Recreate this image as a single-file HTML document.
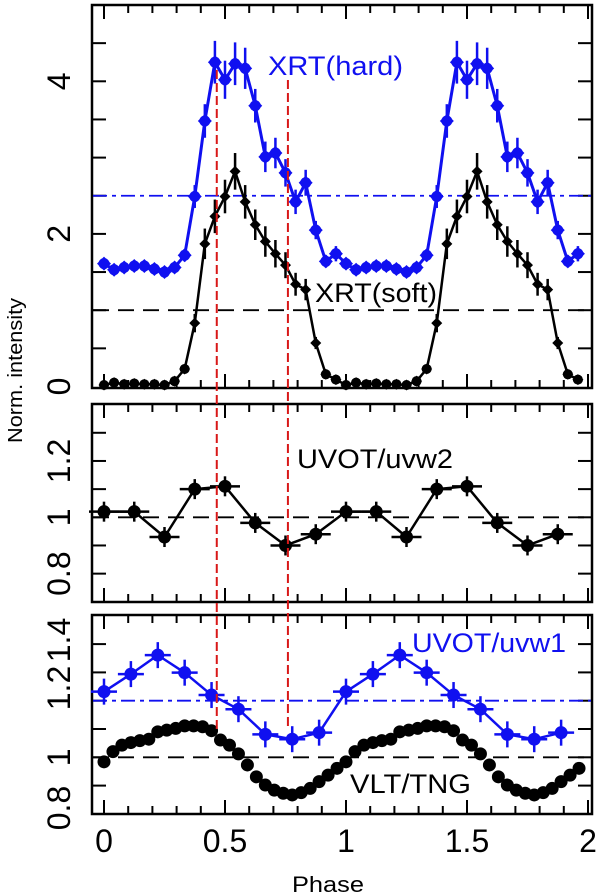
<!DOCTYPE html>
<html><head><meta charset="utf-8"><style>
html,body{margin:0;padding:0;background:#fff;}
svg{display:block;font-family:"Liberation Sans",Arial,sans-serif;}
</style></head><body>
<svg id="chart" width="600" height="894" viewBox="0 0 600 894" xmlns="http://www.w3.org/2000/svg">
<g id="grid"></g>
</svg>
<script>
// ---- data ----
const hardVals = [1.61,1.53,1.56,1.58,1.58,1.54,1.50,1.56,1.72,2.49,3.48,4.25,4.02,4.23,4.17,3.68,3.01,3.06,2.80,2.42,2.67,2.05,1.64,1.74,
                  1.61,1.53,1.56,1.58,1.58,1.54,1.50,1.56,1.72,2.49,3.48,4.25,4.02,4.23,4.17,3.68,3.01,3.06,2.80,2.42,2.67,2.05,1.64,1.74];
const hardErr = [0.05,0.05,0.05,0.05,0.05,0.05,0.05,0.05,0.08,0.15,0.22,0.28,0.25,0.28,0.27,0.22,0.2,0.2,0.18,0.16,0.17,0.12,0.08,0.1,
                 0.05,0.05,0.05,0.05,0.05,0.05,0.05,0.05,0.08,0.15,0.22,0.28,0.25,0.28,0.27,0.22,0.2,0.2,0.18,0.16,0.17,0.12,0.08,0.1];
const softVals = [0.02,0.05,0.03,0.04,0.03,0.03,0.02,0.07,0.23,0.83,1.87,2.23,2.49,2.82,2.42,2.12,1.90,1.74,1.59,1.34,1.27,0.57,0.16,0.09,
                  0.02,0.05,0.03,0.04,0.03,0.03,0.02,0.07,0.23,0.83,1.87,2.23,2.49,2.82,2.42,2.12,1.90,1.74,1.59,1.34,1.27,0.57,0.16,0.09];
const softErr = [0.02,0.02,0.02,0.02,0.02,0.02,0.02,0.03,0.06,0.12,0.2,0.22,0.22,0.24,0.22,0.2,0.2,0.18,0.17,0.15,0.14,0.08,0.04,0.03,
                 0.02,0.02,0.02,0.02,0.02,0.02,0.02,0.03,0.06,0.12,0.2,0.22,0.22,0.24,0.22,0.2,0.2,0.18,0.17,0.15,0.14,0.08,0.04,0.03];
const uvw2Vals = [1.02,1.02,0.93,1.10,1.11,0.98,0.90,0.94,1.02,1.02,0.93,1.10,1.11,0.98,0.90,0.94];
const uvw1Vals = [1.232,1.294,1.361,1.299,1.220,1.170,1.081,1.064,1.087,1.232,1.294,1.361,1.299,1.220,1.170,1.081,1.064,1.087];
const vltVals = [0.984,1.020,1.043,1.052,1.059,1.064,1.090,1.096,1.102,1.111,1.111,1.108,1.094,1.061,1.043,1.012,0.973,0.931,0.902,0.884,0.873,0.867,0.875,0.890,0.914,0.937,0.961,
                 0.984,1.020,1.043,1.052,1.059,1.064,1.090,1.096,1.102,1.111,1.111,1.108,1.094,1.061,1.043,1.012,0.973,0.931,0.902,0.884,0.873,0.867,0.875,0.890,0.914,0.937,0.961];
const xTickLabels = ["0","0.5","1","1.5","2"];
const topTickLabels = ["0","2","4"];
const midTickLabels = ["0.8","1","1.2"];
const botTickLabels = ["0.8","1","1.2","1.4"];
const markerPhases = [0.466, 0.76];

// ---- axes ----
const NS = "http://www.w3.org/2000/svg";
const svg = document.getElementById('chart');
const X = p => 104 + 242 * p;
const Ytop = v => 386.5 - 76.3 * v;
const Ymid = v => 517.3 - (v - 1) * 281.7;
const Ybot = v => 757.3 - (v - 1) * 283;
function el(tag, attrs, parent) {
  const e = document.createElementNS(NS, tag);
  for (const k in attrs) e.setAttribute(k, attrs[k]);
  (parent || svg).appendChild(e);
  return e;
}
const BLUE = "#1010f0";

const panels = [
  {name:'top-panel', y0:5, y1:388},
  {name:'middle-panel', y0:404, y1:602},
  {name:'bottom-panel', y0:615, y1:814}
];
panels.forEach(p => {
  const r = el('rect', {x:92, y:p.y0, width:500, height:p.y1-p.y0, fill:'none', stroke:'#000', 'stroke-width':2.5});
  
  
  for (let i = 0; i <= 20; i++) {
    const x = X(i / 10), len = (i % 5 === 0) ? 14 : 8;
    el('line', {x1:x, x2:x, y1:p.y1, y2:p.y1-len, stroke:'#000', 'stroke-width':2});
    el('line', {x1:x, x2:x, y1:p.y0, y2:p.y0+len, stroke:'#000', 'stroke-width':2});
  }
});
function yTicks(vals, Y) {
  vals.forEach(v => {
    const y = Y(v);
    el('line', {x1:92, x2:106, y1:y, y2:y, stroke:'#000', 'stroke-width':2});
    el('line', {x1:592, x2:578, y1:y, y2:y, stroke:'#000', 'stroke-width':2});
  });
}
yTicks([0.5,1,1.5,2,2.5,3,3.5,4,4.5], Ytop);
yTicks([0.8,0.9,1.0,1.1,1.2,1.3], Ymid);
yTicks([0.9,1.0,1.1,1.2,1.3,1.4], Ybot);

function yLabel(txt, y, name) {
  const t = el('text', {x:0, y:0, 'font-size':32, 'text-anchor':'middle', transform:`translate(70,${y}) rotate(-90)`});
  t.textContent = txt;
  
  
}
topTickLabels.forEach((s, i) => yLabel(s, Ytop(parseFloat(s)), 'top-y-tick-' + i));
midTickLabels.forEach((s, i) => yLabel(s, Ymid(parseFloat(s)), 'mid-y-tick-' + i));
botTickLabels.forEach((s, i) => {
  const v = parseFloat(s);
  let y = Ybot(v);
  if (v === 0.8) y = 808;
  if (v === 1.2) y = 688;
  if (v === 1.4) y = 640;
  yLabel(s, y, 'bot-y-tick-' + i);
});
xTickLabels.forEach((s, i) => {
  const t = el('text', {x:X(parseFloat(s)), y:852, 'font-size':32, 'text-anchor':'middle'});
  t.textContent = s;
  
  
});
const xt = el('text', {x:328, y:892, 'font-size':22, 'text-anchor':'middle', textLength:72, lengthAdjust:'spacingAndGlyphs'});
xt.textContent = 'Phase';


const yt = el('text', {x:0, y:0, 'font-size':20, 'text-anchor':'start', textLength:145, lengthAdjust:'spacingAndGlyphs', transform:'translate(22,443) rotate(-90)'});
yt.textContent = 'Norm. intensity';



function hline(y, color, dash, name) {
  const l = el('line', {x1:93, x2:591, y1:y, y2:y, stroke:color, 'stroke-width':1.8, 'stroke-dasharray':dash});
  
  
}
hline(Ytop(1), '#000', '16 9', 'soft-mean-line');
hline(Ytop(2.5), BLUE, '14 5 4 5', 'hard-mean-line');
hline(Ymid(1), '#000', '16 9', 'uvw2-mean-line');
hline(Ybot(1), '#000', '16 9', 'vlt-mean-line');
hline(Ybot(1.2), BLUE, '14 5 4 5', 'uvw1-mean-line');

function polyline(pts, color, w, name) {
  const l = el('polyline', {points:pts.map(p => p.join(',')).join(' '), fill:'none', stroke:color, 'stroke-width':w, 'stroke-linejoin':'round'});
  
  
}
function diamond(cx, cy, r, color, name) {
  const d = el('polygon', {points:`${cx},${cy-r} ${cx+r},${cy} ${cx},${cy+r} ${cx-r},${cy}`, fill:color});
  
  
}
function dot(cx, cy, r, color, name) {
  const c = el('circle', {cx:cx, cy:cy, r:r, fill:color});
  
  
}

let pts = hardVals.map((v, i) => [X(i/24), Ytop(v)]);
polyline(pts, BLUE, 3, 'xrt-hard-line');
hardVals.forEach((v, i) => {
  el('line', {x1:X(i/24), x2:X(i/24), y1:Ytop(v-hardErr[i]), y2:Ytop(v+hardErr[i]), stroke:BLUE, 'stroke-width':2.5});
  dot(X(i/24), Ytop(v), 5.5, BLUE, 'xrt-hard-point');
  diamond(X(i/24), Ytop(v), 7, BLUE, 'xrt-hard-marker');
});
pts = softVals.map((v, i) => [X(i/24), Ytop(v)]);
polyline(pts, '#000', 2.5, 'xrt-soft-line');
softVals.forEach((v, i) => {
  el('line', {x1:X(i/24), x2:X(i/24), y1:Ytop(v-softErr[i]), y2:Ytop(v+softErr[i]), stroke:'#000', 'stroke-width':2.5});
  if (v < 0.3) dot(X(i/24), Ytop(v), 5, '#000', 'xrt-soft-point');
  diamond(X(i/24), Ytop(v), 5.5, '#000', 'xrt-soft-marker');
});
pts = uvw2Vals.map((v, i) => [X(i/8), Ymid(v)]);
polyline(pts, '#000', 2.5, 'uvw2-line');
uvw2Vals.forEach((v, i) => {
  const x = X(i/8), y = Ymid(v);
  el('line', {x1:x-15, x2:x+15, y1:y, y2:y, stroke:'#000', 'stroke-width':2.5});
  el('line', {x1:x, x2:x, y1:y-10, y2:y+10, stroke:'#000', 'stroke-width':2.5});
  dot(x, y, 6.5, '#000', 'uvw2-point');
});
pts = uvw1Vals.map((v, i) => [X(i/9), Ybot(v)]);
polyline(pts, BLUE, 2.5, 'uvw1-line');
uvw1Vals.forEach((v, i) => {
  const x = X(i/9), y = Ybot(v);
  el('line', {x1:x-13, x2:x+13, y1:y, y2:y, stroke:BLUE, 'stroke-width':2.5});
  el('line', {x1:x, x2:x, y1:y-13, y2:y+13, stroke:BLUE, 'stroke-width':2.5});
  dot(x, y, 6.5, BLUE, 'uvw1-point');
});
vltVals.forEach((v, i) => dot(X(i/27), Ybot(v), 6.5, '#000', 'vlt-point'));

markerPhases.forEach((p, i) => {
  const l = el('line', {x1:X(p), x2:X(p), y1: i === 0 ? 70 : 80, y2: i === 0 ? 730 : 728, stroke:'#d81818', 'stroke-width':2, 'stroke-dasharray':'9 4'});
  
  
});

function label(txt, x, y, w, color, name) {
  const t = el('text', {x:x, y:y, 'font-size':27, fill:color, textLength:w, lengthAdjust:'spacingAndGlyphs'});
  t.textContent = txt;
  
  
}
label('XRT(hard)', 268, 75, 135, BLUE, 'xrt-hard-label');
label('XRT(soft)', 315, 302, 122, '#000', 'xrt-soft-label');
label('UVOT/uvw2', 297, 468, 156, '#000', 'uvw2-label');
label('UVOT/uvw1', 412, 652, 154, BLUE, 'uvw1-label');
label('VLT/TNG', 350, 793, 121, '#000', 'vlt-label');
</script>
</body></html>
